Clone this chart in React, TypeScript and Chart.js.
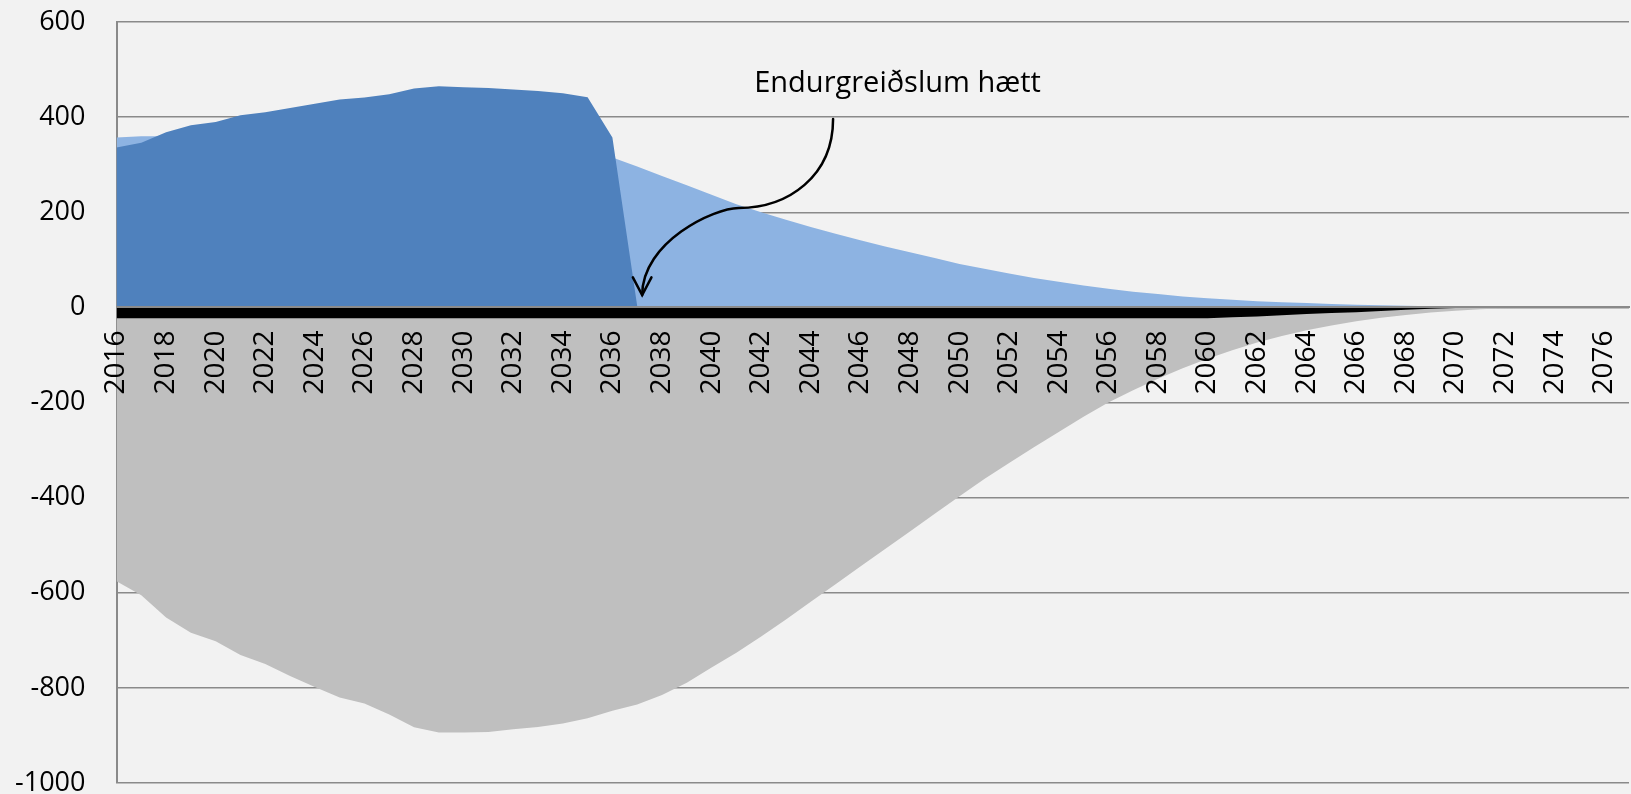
import React, { useEffect, useRef } from "react";
import { Chart, registerables } from "chart.js";

Chart.register(...registerables);

const YEARS = [
  "2016", "2017", "2018", "2019", "2020", "2021", "2022", "2023", "2024", "2025",
  "2026", "2027", "2028", "2029", "2030", "2031", "2032", "2033", "2034", "2035",
  "2036", "2037", "2038", "2039", "2040", "2041", "2042", "2043", "2044", "2045",
  "2046", "2047", "2048", "2049", "2050", "2051", "2052", "2053", "2054", "2055",
  "2056", "2057", "2058", "2059", "2060", "2061", "2062", "2063", "2064", "2065",
  "2066", "2067", "2068", "2069", "2070", "2071", "2072", "2073", "2074", "2075",
  "2076", "2077",
];

// Dark blue area (2016-2077)
const DARK_BLUE = [
  336, 346, 368, 383, 390, 404, 410, 419, 428, 437,
  441, 448, 460, 465, 463, 461, 458, 455, 450, 442,
  357, 3, 0, 0, 0, 0, 0, 0, 0, 0,
  0, 0, 0, 0, 0, 0, 0, 0, 0, 0,
  0, 0, 0, 0, 0, 0, 0, 0, 0, 0,
  0, 0, 0, 0, 0, 0, 0, 0, 0, 0,
  0, 0,
];

// Light blue area (2016-2077)
const LIGHT_BLUE = [
  357, 360, 360, 359, 358, 357, 356, 355, 353, 351,
  349, 347, 344, 341, 338, 335, 331, 327, 323, 320,
  315, 296, 276, 257, 237, 217, 200, 184, 169, 155,
  141, 128, 116, 104, 91, 81, 71, 62, 54, 46,
  39, 33, 28, 23, 19, 16, 13, 11, 9, 7,
  5.5, 4.5, 3.5, 2.5, 1.8, 1.2, 0.8, 0.4, 0, 0,
  0, 0,
];

// Black band (2016-2077)
const BLACK_BAND = [
  -23, -23, -23, -23, -23, -23, -23, -23, -23, -23,
  -23, -23, -23, -23, -23, -23, -23, -23, -23, -23,
  -23, -23, -23, -23, -23, -23, -23, -23, -23, -23,
  -23, -23, -23, -23, -23, -23, -23, -23, -23, -23,
  -23, -23, -23, -23, -23, -21, -19, -16.5, -14, -12,
  -10, -7.5, -5, -3, -1.5, -0.5, 0, 0, 0, 0,
  0, 0,
];

// Grey area (2016-2077)
const GREY = [
  -576, -605, -652, -684, -702, -731, -750, -775, -798, -820,
  -833, -856, -883, -894, -894, -893, -887, -882, -875, -864,
  -848, -835, -815, -789, -757, -726, -692, -656, -619, -582,
  -545, -508, -471, -434, -397, -361, -327, -294, -262, -230,
  -200, -174, -150, -128, -108, -90, -74, -60, -48, -38,
  -29, -22, -16, -11, -7, -4, -2, -1, 0, 0,
  0, 0,
];

const Y_MIN = -1000;
const Y_MAX = 600;
const Y_STEP = 200;

const ANNOTATION_TEXT = "Endurgreiðslum hætt";
// annotation anchors in data units: [category index, value]
const ANNOT_TEXT_POS = [31.5, 453];
const ARROW_START = [28.9, 396];
const ARROW_C1 = [28.9, 276];
const ARROW_C2 = [27.1, 209];
const ARROW_MID = [25.09, 209];
const ARROW_C3 = [24.1, 209];
const ARROW_C4 = [21.2, 138];
const ARROW_TIP = [21.2, 26];

const FONT = "'Open Sans', 'Noto Sans', sans-serif";

const annotationPlugin = {
  id: "annotation",
  afterDraw(chart: any) {
    const { ctx, scales } = chart;
    const x = scales.x;
    const y = scales.y;
    const px = (p: number[]) => [x.getPixelForValue(p[0]), y.getPixelForValue(p[1])];
    ctx.save();
    ctx.fillStyle = "#000";
    ctx.font = `29px ${FONT}`;
    ctx.textAlign = "center";
    ctx.textBaseline = "alphabetic";
    const t = px(ANNOT_TEXT_POS);
    ctx.fillText(ANNOTATION_TEXT, t[0], t[1]);

    const s = px(ARROW_START);
    const c1 = px(ARROW_C1);
    const c2 = px(ARROW_C2);
    const m = px(ARROW_MID);
    const c3 = px(ARROW_C3);
    const c4 = px(ARROW_C4);
    const tip = px(ARROW_TIP);
    ctx.strokeStyle = "#000";
    ctx.lineWidth = 2.5;
    ctx.lineCap = "round";
    ctx.beginPath();
    ctx.moveTo(s[0], s[1]);
    ctx.bezierCurveTo(c1[0], c1[1], c2[0], c2[1], m[0], m[1]);
    ctx.bezierCurveTo(c3[0], c3[1], c4[0], c4[1], tip[0], tip[1]);
    ctx.stroke();
    // arrow head (open V)
    const ang = Math.atan2(tip[1] - c4[1], tip[0] - c4[0]);
    const len = 20;
    const spread = Math.PI / 6.5;
    ctx.beginPath();
    ctx.moveTo(tip[0] - len * Math.cos(ang - spread), tip[1] - len * Math.sin(ang - spread));
    ctx.lineTo(tip[0], tip[1]);
    ctx.lineTo(tip[0] - len * Math.cos(ang + spread), tip[1] - len * Math.sin(ang + spread));
    ctx.stroke();
    ctx.restore();
  },
};

const zeroPadding = (s: any) => {
  s.paddingLeft = 0;
  s.paddingRight = 0;
  s.paddingTop = 0;
  s.paddingBottom = 0;
};

export default function App() {
  const canvasRef = useRef<HTMLCanvasElement | null>(null);

  useEffect(() => {
    if (!canvasRef.current) return;
    const area = (data: number[], color: string) => ({
      data,
      backgroundColor: color,
      borderColor: color,
      borderWidth: 0,
      fill: "origin",
      pointRadius: 0,
      tension: 0,
    });
    const chart = new Chart(canvasRef.current, {
      type: "line",
      data: {
        labels: YEARS,
        datasets: [
          area(DARK_BLUE, "#4f81bd"),
          area(LIGHT_BLUE, "#8db3e2"),
          area(BLACK_BAND, "#000000"),
          area(GREY, "#bfbfbf"),
        ] as any,
      },
      options: {
        animation: false,
        responsive: false,
        devicePixelRatio: 1,
        layout: { padding: { left: 0, right: 2, top: 22, bottom: 11 } },
        plugins: { legend: { display: false }, tooltip: { enabled: false } },
        scales: {
          x: {
            type: "category",
            position: { y: 0 } as any,
            offset: false,
            afterFit: (s: any) => {
              zeroPadding(s);
            },
            grid: { display: false, drawTicks: false },
            border: { display: true, color: "#8a8a8a", width: 2, z: 1 },
            ticks: {
              z: 1,
              autoSkip: false,
              maxRotation: 90,
              minRotation: 90,
              padding: 23,
              color: "#000",
              font: { family: FONT, size: 28 },
              callback: (_v: any, i: number) => (i % 2 === 0 ? YEARS[i] : ""),
            },
          },
          y: {
            min: Y_MIN,
            max: Y_MAX,
            afterFit: (s: any) => {
              zeroPadding(s);
              s.width = 116.5;
            },
            ticks: {
              stepSize: Y_STEP,
              padding: 31,
              color: "#000",
              font: { family: FONT, size: 27, lineHeight: 0.8 },
              callback: (v: any) => String(v),
            },
            grid: { color: "#8a8a8a", lineWidth: 1.5, drawTicks: false },
            border: { display: true, color: "#8a8a8a", width: 2 },
          },
        },
      } as any,
      plugins: [annotationPlugin],
    });
    return () => chart.destroy();
  }, []);

  return (
    <div
      style={{
        position: "absolute",
        left: 0,
        top: 0,
        width: 1631,
        height: 794,
        background: "#f2f2f2",
      }}
    >
      <canvas ref={canvasRef} width={1631} height={794} style={{ display: "block" }} />
    </div>
  );
}
